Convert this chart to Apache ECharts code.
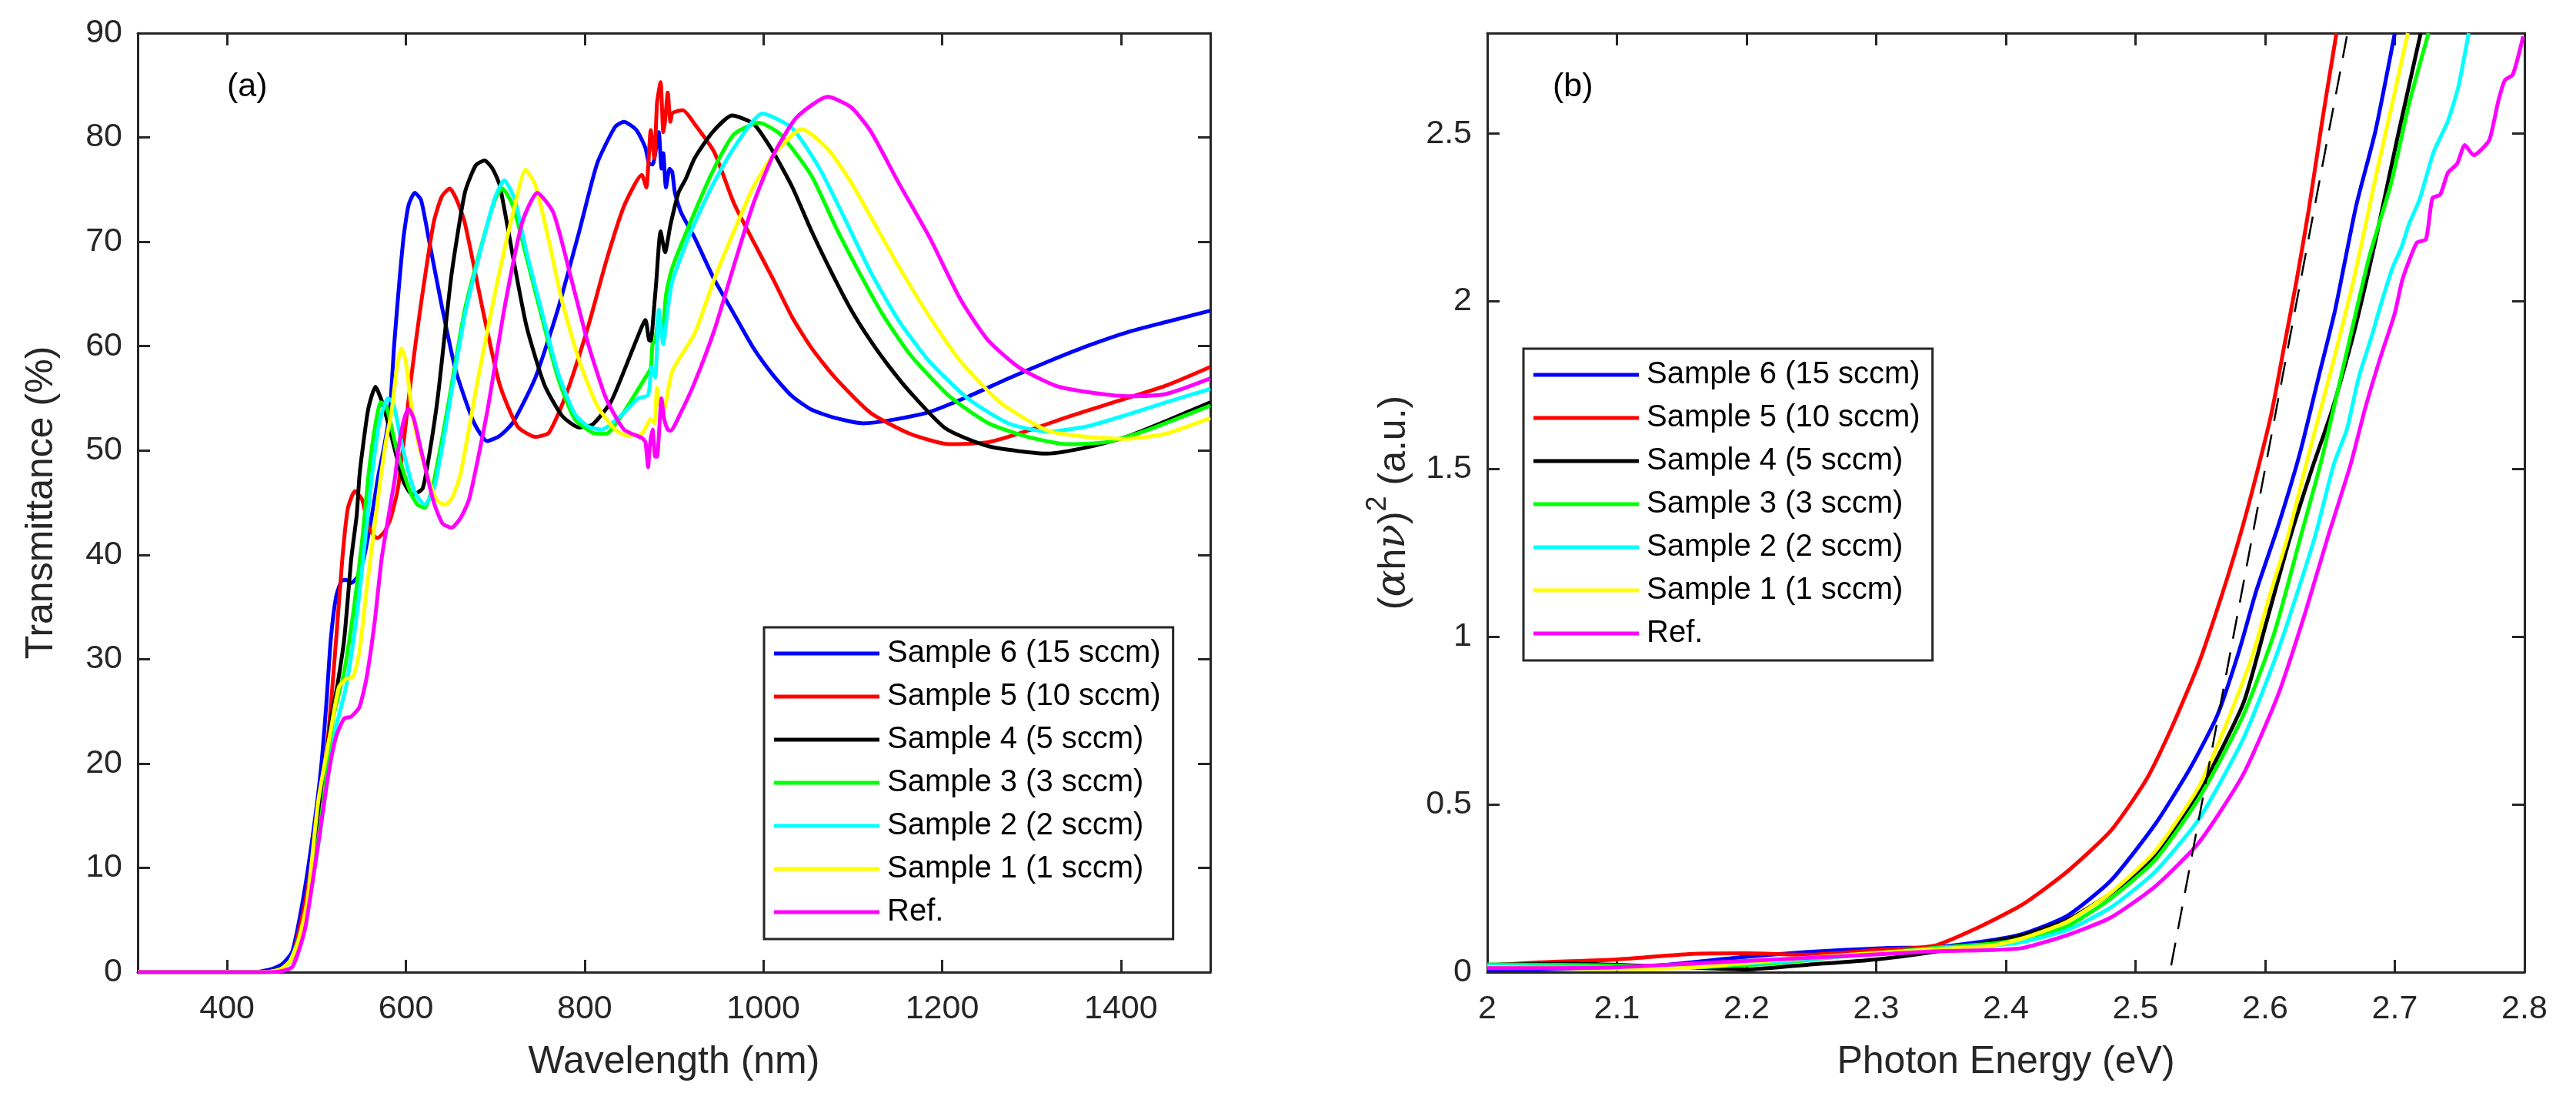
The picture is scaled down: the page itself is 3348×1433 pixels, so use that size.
<!DOCTYPE html>
<html><head><meta charset="utf-8">
<script src="https://cdn.jsdelivr.net/npm/echarts@6/dist/echarts.min.js"></script>
<style>html,body{margin:0;padding:0;background:#fff}#c{width:3348px;height:1433px}</style>
</head><body><div id="c"></div>
<script>
// ---------- names / colours ----------
const seriesNames = ['Sample 6 (15 sccm)','Sample 5 (10 sccm)','Sample 4 (5 sccm)','Sample 3 (3 sccm)','Sample 2 (2 sccm)','Sample 1 (1 sccm)','Ref.'];
const seriesColors = ['#0000ff','#ff0000','#000000','#00ff00','#00ffff','#ffff00','#ff00ff'];

// ---------- panel (a): wavelength (nm) / transmittance (%) ----------
const wlS6 = [300,430,450,462,473,485,496,505,511,516,522,528,533,539,546,553,562,569,576,582,587,597,603,610,617,626,641,656,676,691,705,720,745,770,794,814,834,844,858,868,872,876,880,883,886,888,891,895,898,901,908,923,945,967,989,1011,1032,1054,1081,1112,1142,1186,1230,1274,1318,1362,1406,1450,1500];
const tS6  = [0,0,0.3,0.8,2.0,7,13.2,19.5,25.7,31.9,36,37.5,37.6,37.3,37.9,39.7,43.8,47.5,50.5,53.7,60.2,70.1,73.5,74.7,74,70.1,63.5,57.6,52.7,50.9,51.4,52.7,57,63.5,71,77.5,81,81.5,80.7,79,77.5,77.4,79,80.5,77,78.5,75.2,77,76.7,74.7,72.8,70.4,66.4,63.1,59.8,57.2,55.2,53.9,53.1,52.6,52.9,53.7,55.2,56.9,58.5,60,61.3,62.3,63.4];
const wlS5 = [300,440,455,465,473,488,502,513,522,529,535,543,551,559,568,576,583,591,597,606,616,631,640,649,657,666,686,705,725,745,760,779,804,824,844,864,869,874,878,881,885,888,890,893,896,898,903,910,923,945,967,989,1011,1032,1054,1081,1120,1164,1208,1252,1296,1340,1384,1450,1500];
const tS5  = [0,0,0.2,0.6,1.4,7,14.8,22.6,31.9,39.7,44.4,46.1,45.3,42.5,41.6,42.2,43.5,46.3,50.4,57,63.5,71.8,74.3,75.1,74,71.8,63.5,56.3,52.3,51.3,51.7,55.3,61.9,68.1,73.4,76.4,75.2,80.7,78,83.3,85.3,80.5,81.6,84.3,81.5,82.3,82.5,82.6,81.3,78.6,73.7,70,66.4,62.8,59.8,56.9,53.6,51.6,50.6,50.8,51.9,53.2,54.4,56.2,58];
const wlS4 = [300,440,458,470,480,491,505,516,523,531,539,545,548,552,558,566,574,582,597,607,612,619,627,636,651,666,678,688,697,705,720,735,755,775,794,809,829,844,858,868,872,874,878,880,885,890,896,905,913,923,943,965,989,1011,1032,1054,1076,1098,1120,1142,1164,1204,1252,1318,1362,1406,1450,1500];
const tS4  = [0,0,0.3,1,3,7,16.4,24.1,27.3,31.9,39.7,43.8,47.5,50.4,54,56.1,54.5,52,47.1,45.8,45.9,46.4,50,55.3,66.8,74.7,77.3,77.8,77,75.4,68.5,61.9,56.3,53.3,52.2,52.5,54.6,57.6,60.6,62.5,60.6,60.5,64,66,71,69,71.6,74.7,76,78,80.5,82.1,81.3,78.6,75.3,71,67.1,63.5,60.5,57.9,55.6,52.1,50.4,49.7,50.3,51.3,52.8,54.6];
const wlS3 = [300,445,460,470,480,490,500,510,519,531,542,551,558,565,572,578,590,605,613,621,630,646,666,686,700,708,720,735,750,770,789,809,824,844,868,874,876,879,883,887,891,898,918,943,967,995,1019,1054,1081,1107,1133,1164,1208,1252,1296,1340,1384,1428,1500];
const tS3  = [0,0,0.3,1,3.2,6.5,11.5,18,24.5,28.8,35,41.3,47.5,52,54.6,54.3,50,46,44.8,44.5,46.5,53.7,63.5,70.1,74.1,75.1,73.4,68.5,63.5,57,53,51.7,51.6,53.7,57,57.9,60.2,60.5,62.9,61,64.9,67.5,71.8,76.7,80.3,81.4,80.3,76.3,71.4,67.1,63.1,59.2,55.2,52.6,51.3,50.6,50.8,51.9,54.3];
const wlS2 = [300,445,460,470,480,490,500,510,522,533,545,553,562,570,580,586,597,610,621,632,646,666,686,700,710,722,735,750,770,789,804,819,840,860,871,875,879,883,888,893,898,918,943,967,999,1032,1063,1090,1120,1151,1186,1230,1274,1318,1362,1406,1450,1500];
const tS2  = [0,0,0.3,1,3,6.3,11,17,23.5,27.3,34.1,40.3,47.5,52.5,55,54.5,50,46,44.8,46.5,53,63,70,74.3,75.9,74,69,64,57.5,53.5,52.3,52,53.3,55,55.3,58,57,63.5,60.2,63.5,66.2,70.8,75.4,79,82.3,80.9,77,72.4,67.1,62.5,58.5,54.9,52.6,51.8,52.3,53.4,54.6,55.9];
const wlS1 = [300,445,460,470,480,490,502,516,525,533,541,548,556,565,572,578,584,590,595,600,607,616,626,635,644,652,661,681,700,720,734,745,760,775,794,814,834,849,864,874,878,881,885,888,898,923,945,967,989,1011,1043,1072,1098,1120,1151,1186,1221,1265,1318,1362,1406,1450,1500];
const tS1  = [0,0,0.3,1,3,7,16.4,23.2,27.3,28.1,28.3,30.7,36.6,42.8,47.5,51,53.7,58,59.8,58.5,53.7,50,47.1,45.2,44.8,45.5,47.7,57,65.2,72.8,76.9,75.4,70.1,64.2,58.6,54.3,52,51.4,51.6,53,52.6,56,54,53.7,57.6,61.2,66.4,71,75.3,78.3,80.8,78.9,75.7,72.4,67.7,62.8,58.5,54.6,51.9,51.3,51.1,51.6,53.1];
const wlRef = [300,450,466,473,480,488,502,513,522,531,539,548,556,565,573,582,588,592,598,603,609,616,631,641,651,661,671,691,710,730,747,765,784,804,824,844,864,868,871,873,876,879,881,886,889,893,896,908,923,945,967,989,1011,1037,1072,1098,1120,1151,1186,1221,1252,1287,1327,1362,1406,1450,1500];
const tRef  = [0,0,0.2,0.5,2,4.5,12.3,18.8,22.6,24.3,24.5,25.4,28.2,33.5,39.7,44.4,47.5,50.4,53,54,53,50.4,45.1,43,42.6,43.5,45.4,53.7,63.5,71.8,74.7,72.8,66.8,60.2,55,52,51.2,50.8,48.4,50.5,52,49.4,49.4,55,53,52,51.9,53.7,56.5,61.5,67.7,73.7,78.3,81.9,83.9,82.9,80.6,75.7,70.4,64.4,60.5,57.9,56.2,55.6,55.2,55.4,56.9];

// ---------- panel (b): photon energy (eV) / (alpha h nu)^2 (a.u.) ----------
const eS6 = [2.0,2.06,2.126,2.2,2.247,2.307,2.344,2.38,2.413,2.447,2.481,2.515,2.542,2.563,2.58,2.593,2.61,2.627,2.641,2.654,2.67,2.685,2.7];
const aS6 = [0.005,0.01,0.018,0.046,0.06,0.072,0.074,0.09,0.114,0.167,0.273,0.44,0.607,0.765,0.959,1.135,1.33,1.55,1.771,1.975,2.282,2.507,2.8];
const eS5 = [2.0,2.04,2.1,2.156,2.2,2.247,2.3,2.344,2.378,2.413,2.447,2.481,2.508,2.528,2.549,2.566,2.58,2.592,2.605,2.615,2.624,2.634,2.644,2.655];
const aS5 = [0.02,0.029,0.038,0.054,0.056,0.052,0.066,0.078,0.132,0.202,0.299,0.422,0.572,0.73,0.923,1.117,1.293,1.464,1.669,1.873,2.057,2.282,2.538,2.8];
const eS4 = [2.0,2.065,2.126,2.2,2.247,2.3,2.344,2.389,2.413,2.447,2.481,2.515,2.549,2.583,2.6,2.619,2.636,2.652,2.668,2.685,2.702,2.72];
const aS4 = [0.022,0.025,0.018,0.008,0.022,0.038,0.06,0.091,0.11,0.155,0.235,0.347,0.537,0.8,1.03,1.293,1.5,1.68,1.9,2.18,2.487,2.8];
const eS3 = [2.0,2.095,2.156,2.217,2.277,2.344,2.389,2.413,2.447,2.481,2.515,2.549,2.583,2.607,2.627,2.643,2.66,2.68,2.697,2.711,2.726];
const aS3 = [0.023,0.02,0.014,0.025,0.048,0.072,0.085,0.1,0.136,0.22,0.334,0.519,0.765,1.011,1.293,1.52,1.8,2.129,2.35,2.589,2.8];
const eS2 = [2.0,2.095,2.156,2.217,2.277,2.344,2.39,2.413,2.447,2.481,2.515,2.549,2.583,2.61,2.638,2.653,2.663,2.672,2.682,2.688,2.698,2.705,2.711,2.719,2.73,2.741,2.749,2.757];
const aS2 = [0.019,0.015,0.018,0.029,0.048,0.069,0.08,0.09,0.125,0.193,0.299,0.457,0.695,0.959,1.293,1.515,1.618,1.771,1.894,1.975,2.098,2.16,2.231,2.303,2.446,2.538,2.64,2.8];
const eS1 = [2.0,2.1,2.16,2.22,2.28,2.344,2.389,2.413,2.447,2.481,2.515,2.549,2.569,2.59,2.603,2.617,2.634,2.652,2.669,2.686,2.698,2.71];
const aS1 = [0.015,0.01,0.014,0.035,0.052,0.068,0.079,0.101,0.15,0.237,0.36,0.554,0.73,0.941,1.117,1.293,1.55,1.812,2.077,2.384,2.589,2.8];
const eRef = [2.0,2.095,2.156,2.217,2.277,2.344,2.389,2.413,2.447,2.481,2.515,2.549,2.583,2.61,2.631,2.648,2.666,2.677,2.688,2.7,2.706,2.717,2.724,2.729,2.735,2.741,2.748,2.754,2.761,2.765,2.773,2.78,2.785,2.791,2.799];
const aRef = [0.012,0.014,0.025,0.037,0.048,0.062,0.066,0.072,0.11,0.163,0.255,0.387,0.589,0.827,1.073,1.293,1.515,1.679,1.822,1.965,2.067,2.175,2.185,2.308,2.318,2.384,2.41,2.466,2.436,2.446,2.482,2.6,2.66,2.676,2.79];
// Tauc extrapolation (dashed)
const taucE = [2.5275, 2.663];
const taucA = [0.02, 2.79];

// ---------- tick settings ----------
const wlRange = [300, 1500];
const tRange = [0, 90], tStep = 10;
const eRange = [2, 2.8], eStep = 0.1;
const aRange = [0, 2.8], aStep = 0.5;

const panelA = [[wlS6,tS6],[wlS5,tS5],[wlS4,tS4],[wlS3,tS3],[wlS2,tS2],[wlS1,tS1],[wlRef,tRef]];
const panelB = [[eS6,aS6],[eS5,aS5],[eS4,aS4],[eS3,aS3],[eS2,aS2],[eS1,aS1],[eRef,aRef]];
const zip = (xs, ys) => xs.map((x, i) => [x, ys[i]]);

const FONT = "'Liberation Sans', Arial, Helvetica, sans-serif";
const AX = '#262626';
const plain = v => String(+v.toFixed(4));

function axisBase(extra) {
  return Object.assign({
    type: 'value',
    axisLine: { show: true, onZero: false, lineStyle: { color: AX, width: 3 } },
    axisTick: { show: true, inside: true, length: 16, lineStyle: { color: AX, width: 3 } },
    axisLabel: { fontSize: 43, color: AX, fontFamily: FONT, formatter: plain },
    splitLine: { show: false },
    nameTextStyle: { fontSize: 50, color: AX, fontFamily: FONT }
  }, extra);
}

const xAxes = [
  axisBase({ gridIndex: 0, position: 'bottom', min: wlRange[0], max: wlRange[1], name: 'Wavelength (nm)', nameLocation: 'middle', nameGap: 92,
    axisLabel: { fontSize: 43, color: AX, fontFamily: FONT, margin: 27, formatter: plain, showMinLabel: false, showMaxLabel: false } }),
  axisBase({ gridIndex: 0, position: 'top', min: wlRange[0], max: wlRange[1], axisLabel: { show: false } }),
  axisBase({ gridIndex: 1, position: 'bottom', min: eRange[0], max: eRange[1], interval: eStep, name: 'Photon Energy (eV)', nameLocation: 'middle', nameGap: 92,
    axisLabel: { fontSize: 43, color: AX, fontFamily: FONT, margin: 27, formatter: plain } }),
  axisBase({ gridIndex: 1, position: 'top', min: eRange[0], max: eRange[1], interval: eStep, axisLabel: { show: false } })
];
const yAxes = [
  axisBase({ gridIndex: 0, position: 'left', min: tRange[0], max: tRange[1], interval: tStep, name: 'Transmittance (%)', nameLocation: 'middle', nameGap: 100,
    axisLabel: { fontSize: 43, color: AX, fontFamily: FONT, margin: 20, formatter: plain } }),
  axisBase({ gridIndex: 0, position: 'right', min: tRange[0], max: tRange[1], interval: tStep, axisLabel: { show: false } }),
  axisBase({ gridIndex: 1, position: 'left', min: aRange[0], max: aRange[1], interval: aStep,
    name: '{p|(}{g|α}{p|h}{g|ν}{p|)}{s|2}{p| (a.u.)}', nameLocation: 'middle', nameGap: 96,
    nameTextStyle: { fontSize: 50, color: AX, fontFamily: FONT, rich: {
      p: { fontSize: 50, color: AX, fontFamily: FONT, lineHeight: 64, verticalAlign: 'bottom' },
      g: { fontSize: 52, color: AX, fontFamily: "'DejaVu Serif', serif", fontStyle: 'italic', lineHeight: 64, verticalAlign: 'bottom' },
      s: { fontSize: 36, color: AX, fontFamily: FONT, lineHeight: 36, verticalAlign: 'top' }
    } },
    axisLabel: { fontSize: 43, color: AX, fontFamily: FONT, margin: 20, formatter: plain, showMaxLabel: false } }),
  axisBase({ gridIndex: 1, position: 'right', min: aRange[0], max: aRange[1], interval: aStep, axisLabel: { show: false } })
];

const LW = 5;
const series = [];
panelA.forEach((d, i) => series.push({
  name: seriesNames[i], type: 'line', xAxisIndex: 0, yAxisIndex: 0, data: zip(d[0], d[1]),
  symbol: 'none', smooth: 0.2, color: seriesColors[i], lineStyle: { width: LW, color: seriesColors[i] }
}));
panelB.forEach((d, i) => series.push({
  name: seriesNames[i], type: 'line', xAxisIndex: 2, yAxisIndex: 2, data: zip(d[0], d[1]),
  symbol: 'none', smooth: 0.2, color: seriesColors[i], lineStyle: { width: LW, color: seriesColors[i] }
}));
series.push({
  name: 'fit', type: 'line', xAxisIndex: 2, yAxisIndex: 2, data: zip(taucE, taucA),
  symbol: 'none', color: '#000', lineStyle: { width: 2.5, color: '#000', type: [30, 18] }
});

function legendAt(left, top) {
  return {
    data: seriesNames, left: left, top: top, orient: 'vertical', align: 'left',
    icon: 'rect', itemWidth: 137, itemHeight: 5, itemGap: 16,
    padding: [14, 16, 15, 13], borderColor: AX, borderWidth: 3, backgroundColor: '#fff',
    itemStyle: { borderWidth: 0 },
    textStyle: { fontSize: 40, lineHeight: 40, color: '#000', fontFamily: FONT, padding: [0, 0, 0, 5] },
    selectedMode: false
  };
}

const chart = echarts.init(document.getElementById('c'), null, { renderer: 'canvas' });
chart.setOption({
  animation: false,
  backgroundColor: '#fff',
  grid: [
    { left: 179, top: 43, width: 1394, height: 1220 },
    { left: 1933, top: 43, width: 1348, height: 1220 }
  ],
  xAxis: xAxes,
  yAxis: yAxes,
  legend: [legendAt(993, 815), legendAt(1980, 453)],
  graphic: [
    { type: 'text', left: 295, top: 92, style: { text: '(a)', font: '43px ' + FONT, fill: '#000' } },
    { type: 'text', left: 2018, top: 92, style: { text: '(b)', font: '43px ' + FONT, fill: '#000' } }
  ],
  series: series
});
</script>
</body></html>
